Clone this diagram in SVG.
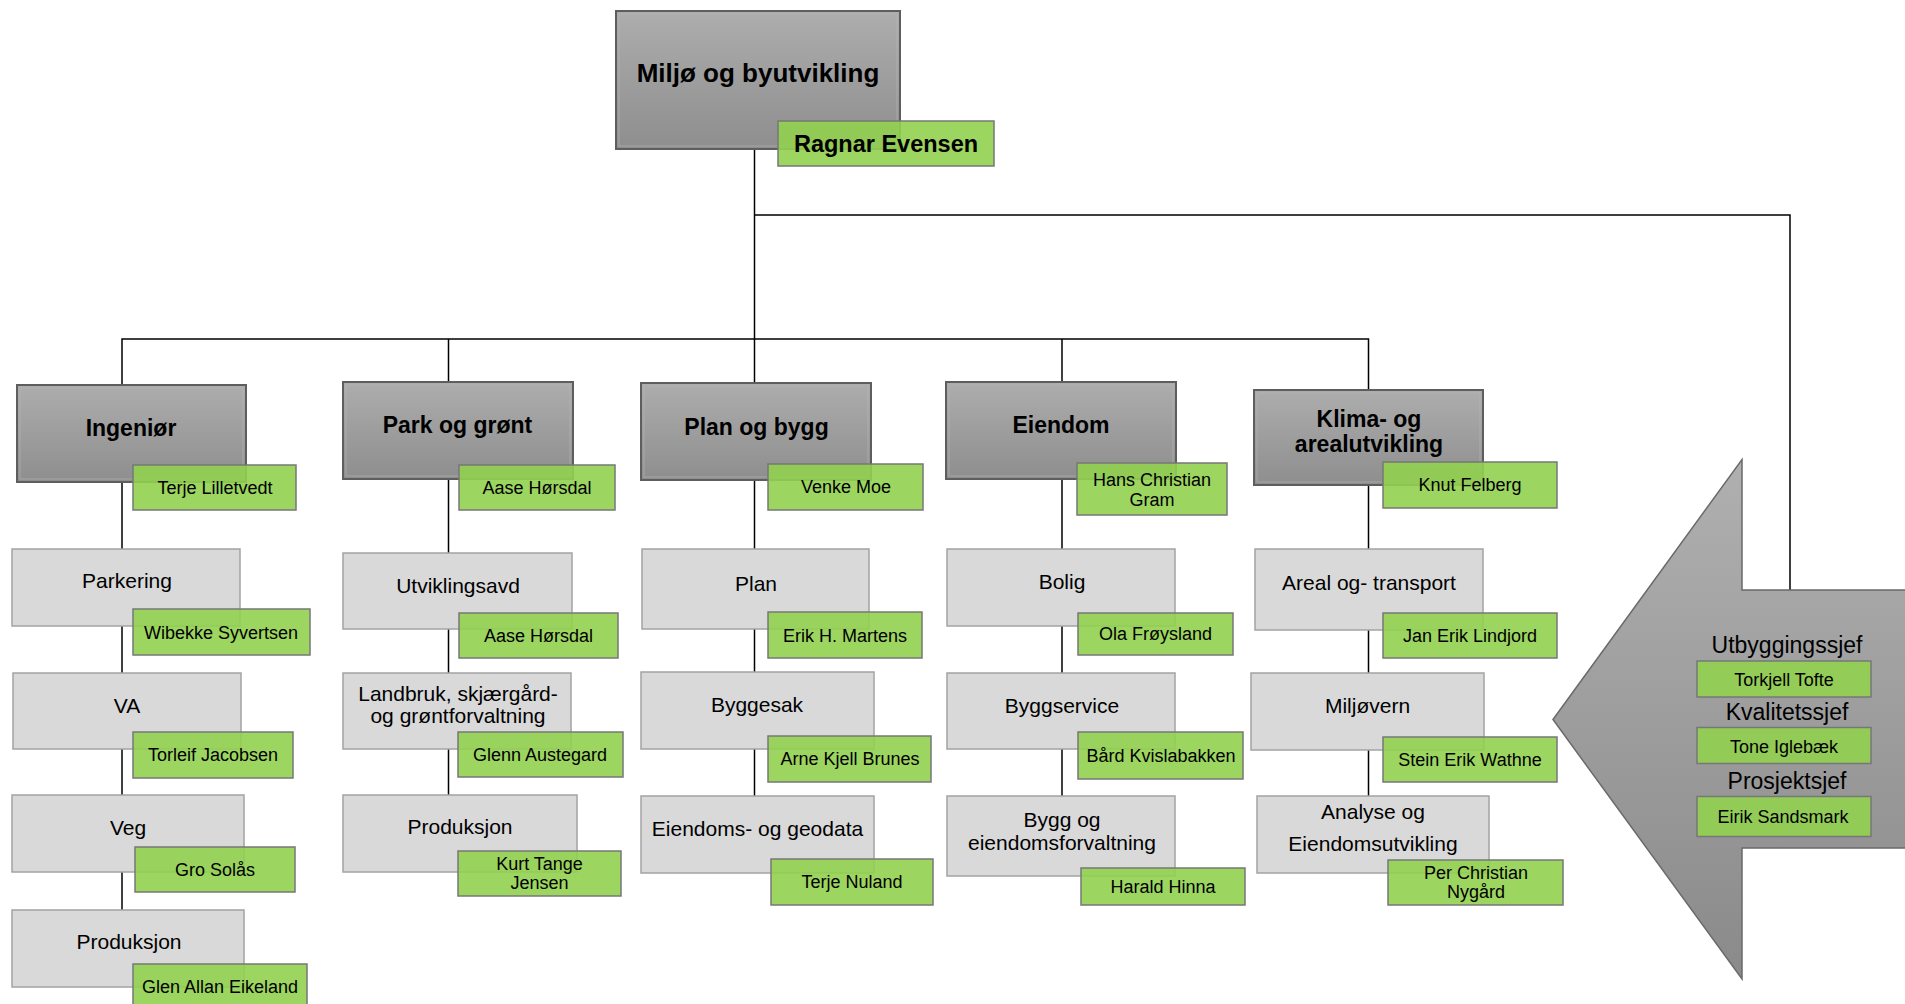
<svg xmlns="http://www.w3.org/2000/svg" width="1905" height="1004" viewBox="0 0 1905 1004">
<defs>
<linearGradient id="hdr" x1="0" y1="0" x2="0" y2="1">
<stop offset="0" stop-color="#adadad"/>
<stop offset="1" stop-color="#8e8e8e"/>
</linearGradient>
<linearGradient id="arr" x1="0" y1="0" x2="0" y2="1">
<stop offset="0" stop-color="#b0b0b0"/>
<stop offset="1" stop-color="#8a8a8a"/>
</linearGradient>
<style>
text{font-family:"Liberation Sans",Arial,sans-serif;fill:#000;text-anchor:middle}
.hdr{fill:url(#hdr);stroke:#5e5e5e;stroke-width:2}
.hin{fill:none;stroke:#b8b8b8;stroke-width:1;opacity:0.6}
.sub{fill:#d9d9d9;stroke:#a3a3a3;stroke-width:1.5}
.grn{fill:#92d050;fill-opacity:0.9;stroke:#777;stroke-width:1.5}
.ht{font-size:23px;font-weight:bold}
.tt{font-size:26px;font-weight:bold}
.st{font-size:21px}
.gt{font-size:18px}
.at{font-size:23px}
.con{fill:none;stroke:#000;stroke-width:1.5}
</style>
</defs>
<rect width="1905" height="1004" fill="#fff"/>

<g id="connectors">
<polyline class="con" points="754.5,149 754.5,383"/>
<polyline class="con" points="754.5,215 1790,215 1790,590"/>
<polyline class="con" points="122,385 122,339 1368.5,339 1368.5,390"/>
<line class="con" x1="448.5" y1="339" x2="448.5" y2="382"/>
<line class="con" x1="1062" y1="339" x2="1062" y2="382"/>
<line class="con" x1="122" y1="482" x2="122" y2="910"/>
<line class="con" x1="448.5" y1="479" x2="448.5" y2="795"/>
<line class="con" x1="754.5" y1="480" x2="754.5" y2="796"/>
<line class="con" x1="1062" y1="479" x2="1062" y2="796"/>
<line class="con" x1="1368.5" y1="485" x2="1368.5" y2="796"/>
</g>

<g id="n-top">
<rect class="hdr" x="616" y="11" width="284" height="138"/>
<rect class="hin" x="619" y="14" width="278" height="132"/>
<text class="tt" x="758" y="82">Miljø og byutvikling</text>
<rect class="grn" x="778" y="121" width="216" height="45"/>
<text class="ht" style="font-size:23.5px" x="886" y="152">Ragnar Evensen</text>
</g>

<!-- Ingeniør column -->
<g id="n-ingenior">
<rect class="hdr" x="17" y="385" width="229" height="97"/>
<rect class="hin" x="20" y="388" width="223" height="91"/>
<text class="ht" x="131" y="436">Ingeniør</text>
<rect class="grn" x="133" y="465" width="163" height="45"/>
<text class="gt" x="215" y="494">Terje Lilletvedt</text>
</g>
<g id="n-parkering">
<rect class="sub" x="12" y="549" width="228" height="77"/>
<text class="st" x="127" y="588">Parkering</text>
<rect class="grn" x="133" y="609" width="177" height="46"/>
<text class="gt" x="221" y="639">Wibekke Syvertsen</text>
</g>
<g id="n-va">
<rect class="sub" x="13" y="673" width="228" height="76"/>
<text class="st" x="127" y="713">VA</text>
<rect class="grn" x="133" y="732" width="160" height="46"/>
<text class="gt" x="213" y="761">Torleif Jacobsen</text>
</g>
<g id="n-veg">
<rect class="sub" x="12" y="795" width="232" height="77"/>
<text class="st" x="128" y="835">Veg</text>
<rect class="grn" x="135" y="847" width="160" height="45"/>
<text class="gt" x="215" y="876">Gro Solås</text>
</g>
<g id="n-produksjon-ing">
<rect class="sub" x="12" y="910" width="232" height="77"/>
<text class="st" x="129" y="949">Produksjon</text>
<rect class="grn" x="133" y="964" width="174" height="48"/>
<text class="gt" x="220" y="993">Glen Allan Eikeland</text>
</g>

<!-- Park og grønt column -->
<g id="n-park">
<rect class="hdr" x="343" y="382" width="230" height="97"/>
<rect class="hin" x="346" y="385" width="224" height="91"/>
<text class="ht" x="457.5" y="433">Park og grønt</text>
<rect class="grn" x="459" y="465" width="156" height="45"/>
<text class="gt" x="537" y="494">Aase Hørsdal</text>
</g>
<g id="n-utviklingsavd">
<rect class="sub" x="343" y="553" width="229" height="76"/>
<text class="st" x="458" y="593">Utviklingsavd</text>
<rect class="grn" x="459" y="613" width="159" height="45"/>
<text class="gt" x="538.5" y="642">Aase Hørsdal</text>
</g>
<g id="n-landbruk">
<rect class="sub" x="343" y="673" width="228" height="76"/>
<text class="st" x="458" y="701">Landbruk, skjærgård-</text>
<text class="st" x="458" y="723">og grøntforvaltning</text>
<rect class="grn" x="458" y="732" width="165" height="45"/>
<text class="gt" x="540" y="761">Glenn Austegard</text>
</g>
<g id="n-produksjon-park">
<rect class="sub" x="343" y="795" width="234" height="77"/>
<text class="st" x="460" y="834">Produksjon</text>
<rect class="grn" x="458" y="851" width="163" height="45"/>
<text class="gt" x="539.5" y="870">Kurt Tange</text>
<text class="gt" x="539.5" y="889">Jensen</text>
</g>

<!-- Plan og bygg column -->
<g id="n-plan-bygg">
<rect class="hdr" x="641" y="383" width="230" height="97"/>
<rect class="hin" x="644" y="386" width="224" height="91"/>
<text class="ht" x="756.5" y="435">Plan og bygg</text>
<rect class="grn" x="768" y="464" width="155" height="46"/>
<text class="gt" x="846" y="493">Venke Moe</text>
</g>
<g id="n-plan">
<rect class="sub" x="642" y="549" width="227" height="80"/>
<text class="st" x="756" y="591">Plan</text>
<rect class="grn" x="768" y="612" width="154" height="46"/>
<text class="gt" x="845" y="642">Erik H. Martens</text>
</g>
<g id="n-byggesak">
<rect class="sub" x="641" y="672" width="233" height="77"/>
<text class="st" x="757" y="712">Byggesak</text>
<rect class="grn" x="768" y="736" width="163" height="46"/>
<text class="gt" x="850" y="765">Arne Kjell Brunes</text>
</g>
<g id="n-geodata">
<rect class="sub" x="641" y="796" width="233" height="77"/>
<text class="st" x="757.5" y="836">Eiendoms- og geodata</text>
<rect class="grn" x="771" y="859" width="162" height="46"/>
<text class="gt" x="852" y="888">Terje Nuland</text>
</g>

<!-- Eiendom column -->
<g id="n-eiendom">
<rect class="hdr" x="946" y="382" width="230" height="97"/>
<rect class="hin" x="949" y="385" width="224" height="91"/>
<text class="ht" x="1061" y="433">Eiendom</text>
<rect class="grn" x="1077" y="463" width="150" height="52"/>
<text class="gt" x="1152" y="486">Hans Christian</text>
<text class="gt" x="1152" y="506">Gram</text>
</g>
<g id="n-bolig">
<rect class="sub" x="947" y="549" width="228" height="77"/>
<text class="st" x="1062" y="589">Bolig</text>
<rect class="grn" x="1078" y="613" width="155" height="42"/>
<text class="gt" x="1155.5" y="640">Ola Frøysland</text>
</g>
<g id="n-byggservice">
<rect class="sub" x="947" y="673" width="228" height="76"/>
<text class="st" x="1062" y="713">Byggservice</text>
<rect class="grn" x="1078" y="732" width="165" height="47"/>
<text class="gt" x="1161" y="762">Bård Kvislabakken</text>
</g>
<g id="n-eiendomsforvaltning">
<rect class="sub" x="947" y="796" width="228" height="80"/>
<text class="st" x="1062" y="827">Bygg og</text>
<text class="st" x="1062" y="850">eiendomsforvaltning</text>
<rect class="grn" x="1081" y="868" width="164" height="37"/>
<text class="gt" x="1163" y="893">Harald Hinna</text>
</g>

<!-- Klima column -->
<g id="n-klima">
<rect class="hdr" x="1254" y="390" width="229" height="95"/>
<rect class="hin" x="1257" y="393" width="223" height="89"/>
<text class="ht" x="1369" y="427">Klima- og</text>
<text class="ht" x="1369" y="452">arealutvikling</text>
<rect class="grn" x="1383" y="462" width="174" height="46"/>
<text class="gt" x="1470" y="491">Knut Felberg</text>
</g>
<g id="n-areal">
<rect class="sub" x="1255" y="549" width="228" height="81"/>
<text class="st" x="1369" y="590">Areal og- transport</text>
<rect class="grn" x="1383" y="613" width="174" height="45"/>
<text class="gt" x="1470" y="642">Jan Erik Lindjord</text>
</g>
<g id="n-miljovern">
<rect class="sub" x="1251" y="673" width="233" height="77"/>
<text class="st" x="1367.5" y="713">Miljøvern</text>
<rect class="grn" x="1383" y="737" width="174" height="45"/>
<text class="gt" x="1470" y="766">Stein Erik Wathne</text>
</g>
<g id="n-analyse">
<rect class="sub" x="1257" y="796" width="232" height="77"/>
<text class="st" x="1373" y="819">Analyse og</text>
<text class="st" x="1373" y="851">Eiendomsutvikling</text>
<rect class="grn" x="1388" y="860" width="175" height="45"/>
<text class="gt" x="1476" y="879">Per Christian</text>
<text class="gt" x="1476" y="898">Nygård</text>
</g>

<!-- Arrow -->
<g id="n-arrow">
<polygon points="1553,719.5 1742,459.5 1742,590 1915,590 1915,848 1742,848 1742,979" fill="url(#arr)" stroke="#6a6a6a" stroke-width="1.5"/>
<text class="at" x="1787" y="653">Utbyggingssjef</text>
<rect class="grn" x="1697" y="661" width="174" height="36"/>
<text class="gt" x="1784" y="686">Torkjell Tofte</text>
<text class="at" x="1787" y="720">Kvalitetssjef</text>
<rect class="grn" x="1697" y="727.5" width="174" height="36"/>
<text class="gt" x="1784" y="752.5">Tone Iglebæk</text>
<text class="at" x="1787" y="789">Prosjektsjef</text>
<rect class="grn" x="1697" y="796.5" width="174" height="40"/>
<text class="gt" x="1783" y="823">Eirik Sandsmark</text>
</g>
</svg>
